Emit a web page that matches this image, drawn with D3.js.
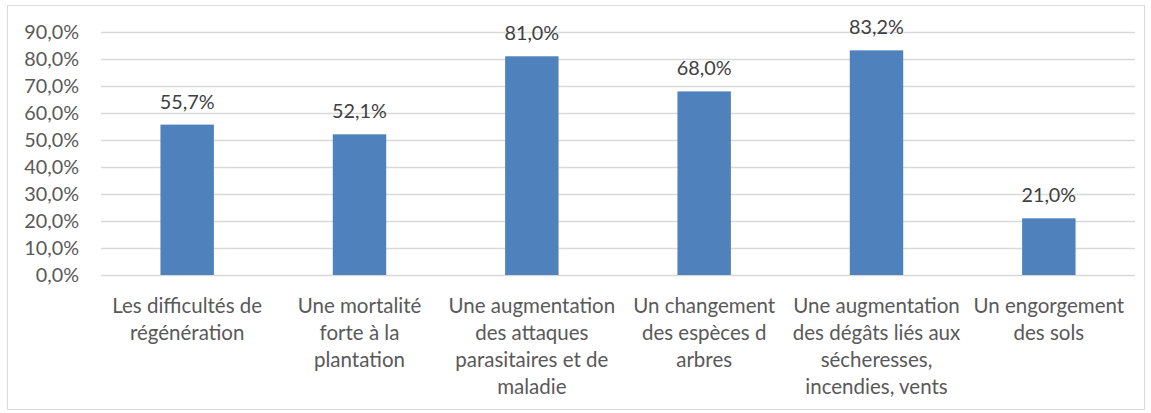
<!DOCTYPE html>
<html>
<head>
<meta charset="utf-8">
<script src="https://cdn.jsdelivr.net/npm/d3@7"></script>
<style>
  body { margin: 0; background: #fff; }
  text { font-family: Lato, "Open Sans", sans-serif; fill: #595959; }
</style>
</head>
<body>
<svg id="chart"></svg>
<script>
// categories (already broken into lines as in the original)
const categories = [
  ["Les difficultés de", "régénération"],
  ["Une mortalité", "forte à la", "plantation"],
  ["Une augmentation", "des attaques", "parasitaires et de", "maladie"],
  ["Un changement", "des espèces d", "arbres"],
  ["Une augmentation", "des dégâts liés aux", "sécheresses,", "incendies, vents"],
  ["Un engorgement", "des sols"]
];
const values = [55.7, 52.1, 81.0, 68.0, 83.2, 21.0];
const yTicks = [0, 10, 20, 30, 40, 50, 60, 70, 80, 90];

const width = 1151, height = 413;
const margin = { top: 32, right: 16, bottom: 138, left: 101 };

const fmt = v => d3.format(".1f")(v).replace(".", ",") + "%";

const svg = d3.select("#chart")
  .attr("width", width)
  .attr("height", height);

// outer chart border
svg.append("rect")
  .attr("x", 7.5).attr("y", 5.5)
  .attr("width", width - 14).attr("height", height - 9)
  .attr("fill", "none")
  .attr("stroke", "#d9d9d9");

const x = d3.scaleBand()
  .domain(d3.range(categories.length))
  .range([margin.left, width - margin.right])
  .paddingInner(0.69)
  .paddingOuter(0.345);

const y = d3.scaleLinear()
  .domain([0, 90])
  .range([height - margin.bottom, margin.top]);

// gridlines
svg.append("g")
  .selectAll("line")
  .data(yTicks)
  .join("line")
  .attr("x1", margin.left)
  .attr("x2", width - margin.right)
  .attr("y1", d => Math.round(y(d)) + 0.5)
  .attr("y2", d => Math.round(y(d)) + 0.5)
  .attr("stroke", "#d9d9d9")
  .attr("stroke-width", 1.5);

// y axis labels
const yAxis = d3.axisLeft(y)
  .tickValues(yTicks)
  .tickFormat(fmt)
  .tickSize(0)
  .tickPadding(22);
const gy = svg.append("g")
  .attr("transform", `translate(${margin.left},0)`)
  .call(yAxis);
gy.select(".domain").remove();
gy.selectAll("text")
  .attr("font-size", 19.8)
  .attr("font-family", null)
  .attr("fill", "#595959");

// bars
svg.append("g")
  .selectAll("rect")
  .data(values)
  .join("rect")
  .attr("x", (d, i) => x(i))
  .attr("width", x.bandwidth())
  .attr("y", d => y(d))
  .attr("height", d => y(0) - y(d))
  .attr("fill", "#4f81bd");

// value labels
svg.append("g")
  .selectAll("text")
  .data(values)
  .join("text")
  .attr("x", (d, i) => x(i) + x.bandwidth() / 2)
  .attr("y", d => y(d) - 16)
  .attr("text-anchor", "middle")
  .attr("font-size", 19.8)
  .style("fill", "#404040")
  .text(fmt);

// category labels
const cat = svg.append("g")
  .selectAll("text")
  .data(categories)
  .join("text")
  .attr("text-anchor", "middle")
  .attr("font-size", 20.5)
  .attr("x", (d, i) => x(i) + x.bandwidth() / 2)
  .attr("y", y(0) + 38);
cat.each(function (lines, i) {
  const t = d3.select(this);
  lines.forEach((line, k) => {
    t.append("tspan")
      .attr("x", x(i) + x.bandwidth() / 2)
      .attr("dy", k === 0 ? 0 : 27)
      .text(line);
  });
});
</script>
</body>
</html>
